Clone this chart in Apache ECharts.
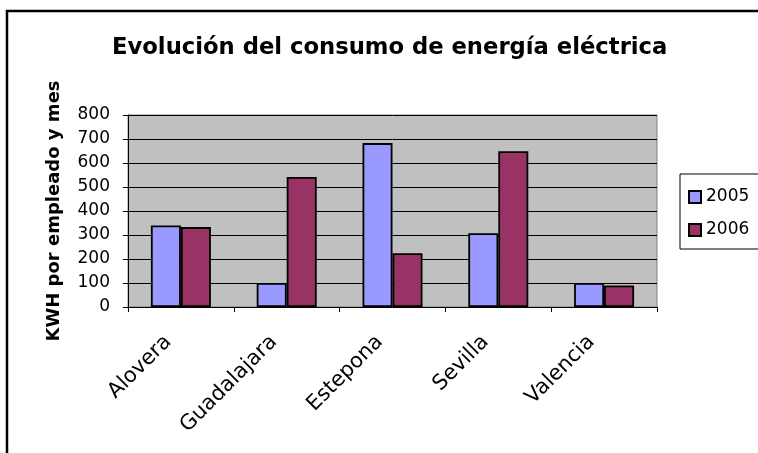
<!DOCTYPE html>
<html>
<head>
<meta charset="utf-8">
<script src="https://cdn.jsdelivr.net/npm/echarts@6/dist/echarts.min.js"></script>
<style>html,body{margin:0;padding:0;background:#fff;}#c{width:758px;height:453px;}</style>
</head>
<body>
<div id="c"></div>
<script>
const categories = ['Alovera', 'Guadalajara', 'Estepona', 'Sevilla', 'Valencia'];
const seriesNames = ['2005', '2006'];
const values2005 = [340, 100, 683, 307, 100];
const values2006 = [333, 542, 224, 649, 90];
const yTicks = { min: 0, max: 800, interval: 100 };
const titleText = 'Evolución del consumo de energía eléctrica';
const yAxisTitle = 'KWH por empleado y mes';

const FONT = 'DejaVu Sans';
const chart = echarts.init(document.getElementById('c'), null, { renderer: 'canvas' });
chart.setOption({
  animation: false,
  backgroundColor: '#ffffff',
  title: {
    text: titleText,
    left: 112,
    top: 37,
    padding: 0,
    textStyle: { fontFamily: FONT, fontWeight: 'bold', fontSize: 22.7, color: '#000' }
  },
  graphic: [{
    type: 'polyline',
    shape: { points: [[7, 460], [7, 11], [770, 11]] },
    style: { fill: null, stroke: '#000', lineWidth: 2.5 },
    silent: true
  }],
  legend: {
    orient: 'vertical',
    left: 680,
    top: 174,
    padding: [13, 20, 9, 8],
    itemGap: 13,
    itemWidth: 12,
    itemHeight: 12,
    borderColor: '#000',
    borderWidth: 1,
    backgroundColor: '#fff',
    icon: 'rect',
    data: seriesNames,
    textStyle: { fontFamily: FONT, fontSize: 17, color: '#000', lineHeight: 20 }
  },
  grid: {
    left: 128, top: 115, right: 101, bottom: 146,
    show: true, backgroundColor: '#c0c0c0', borderColor: '#808080', borderWidth: 1
  },
  xAxis: {
    type: 'category',
    data: categories,
    axisLine: { lineStyle: { color: '#000', width: 1 } },
    axisTick: { show: true, length: 5, lineStyle: { color: '#000' } },
    axisLabel: { rotate: 45, margin: 19, padding: [0, 18, 0, 0], fontFamily: FONT, fontSize: 21, color: '#000' }
  },
  yAxis: {
    type: 'value',
    min: yTicks.min, max: yTicks.max, interval: yTicks.interval,
    name: yAxisTitle,
    nameLocation: 'middle',
    nameRotate: 90,
    nameGap: 65,
    nameTextStyle: { fontFamily: FONT, fontWeight: 'bold', fontSize: 18, color: '#000' },
    axisLine: { show: true, lineStyle: { color: '#000', width: 1 } },
    axisTick: { show: true, length: 5, lineStyle: { color: '#000' } },
    axisLabel: { margin: 18, fontFamily: FONT, fontSize: 17, color: '#000' },
    splitLine: { show: true, lineStyle: { color: '#000', width: 1 } }
  },
  series: [
    { name: seriesNames[0], type: 'bar', data: values2005, barWidth: 30, barGap: '0%',
      itemStyle: { color: '#9999ff', borderColor: '#000', borderWidth: 1.8 } },
    { name: seriesNames[1], type: 'bar', data: values2006, barWidth: 30, barGap: '0%',
      itemStyle: { color: '#993366', borderColor: '#000', borderWidth: 1.8 } }
  ]
});
</script>
</body>
</html>
